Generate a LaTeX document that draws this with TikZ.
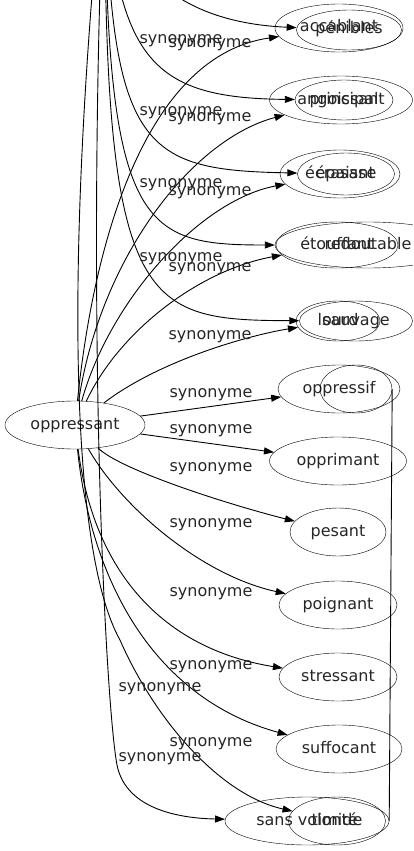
\documentclass[tikz,border=0pt]{standalone}
\usepackage{fontspec}
\setmainfont{DejaVu Sans}
\usetikzlibrary{shapes.geometric, arrows.meta}

\begin{document}
\begin{tikzpicture}[x=1pt, y=-1pt, font=\fontsize{16}{19}\selectfont,
    word/.style={draw, ellipse, inner sep=0pt, minimum height=48, text height=11.5pt, text depth=3.5pt, text=black!85},
    syn/.style={inner sep=0pt, text height=11.5pt, text depth=3.5pt, text=black!85},
    arc/.style={-{Triangle[length=10pt, width=7pt]}, line width=0.9pt}]
    \useasboundingbox (0,0) rectangle (413,851);
    \clip (0,0) rectangle (413,851);

    \node[word, minimum width=140] (opp) at (75,425) {oppressant};

    \node[word, minimum width=128] (acc) at (339,28) {accablant};
    \node[word, minimum width=105, minimum height=40] (pen) at (349,30) {pénibles};
    \node[word, minimum width=143] (ang) at (341,100) {angoissant};
    \node[word, minimum width=98, minimum height=40] (pri) at (344,100) {principal};
    \node[word, minimum width=120] (ecr) at (340,174) {écrasant};
    \node[word, minimum width=97, minimum height=42] (epa) at (346,174) {épaisse};
    \node[word, minimum width=122, minimum height=46] (eto) at (337,245) {étouffant};
    \node[word, minimum width=186, minimum height=46] (red) at (368,245) {redoutable};
    \node[word, minimum width=84, minimum height=40] (lou) at (338,321) {lourd};
    \node[word, minimum width=113, minimum height=40] (sau) at (356,321) {sauvage};
    \node[word, minimum width=122] (ops) at (339,389) {oppressif};
    \node[word, minimum width=72] (blank) at (356,389) {};
    \node[word, minimum width=137] (opm) at (338,461) {opprimant};
    \node[word, minimum width=96] (pes) at (338,532) {pesant};
    \node[word, minimum width=118] (poi) at (338,605) {poignant};
    \node[word, minimum width=118] (str) at (338,677) {stressant};
    \node[word, minimum width=126] (suf) at (339,749) {suffocant};
    \node[word, minimum width=164] (sv) at (307,821) {sans volonté};
    \node[word, minimum width=97] (tim) at (337,821) {timide};

    \coordinate (src) at (105,-150);

    \draw[arc] (opp) .. controls (95,230) and (150,55) .. (acc);
    \draw[arc] (opp) .. controls (100,260) and (190,140) .. (ang);
    \draw[arc] (opp) .. controls (110,300) and (200,200) .. (ecr);
    \draw[arc] (opp) .. controls (120,330) and (200,270) .. (eto);
    \draw[arc] (opp) .. controls (160,360) and (250,335) .. (lou);
    \draw[arc] (opp) -- (ops);
    \draw[arc] (opp) -- (opm);
    \draw[arc] (opp) .. controls (120,470) and (230,505) .. (pes);
    \draw[arc] (opp) .. controls (120,505) and (200,575) .. (poi);
    \draw[arc] (opp) .. controls (95,580) and (170,650) .. (str);
    \draw[arc] (opp) .. controls (92,590) and (160,700) .. (suf);

    \draw[arc] (src) .. controls (110,-40) and (170,22) .. (pen);
    \draw[arc] (src) .. controls (112,60) and (150,98) .. (pri);
    \draw[arc] (src) .. controls (108,150) and (140,170) .. (epa);
    \draw[arc] (src) .. controls (104,230) and (140,245) .. (red);
    \draw[arc] (src) .. controls (102,310) and (140,320) .. (sau);
    \draw[arc] (src) .. controls (85,300) and (105,700) .. (117,765) .. controls (125,805) and (170,818) .. (sv);
    \draw[arc] (src) .. controls (60,300) and (75,560) .. (120,640) .. controls (155,720) and (220,795) .. (tim);
    \draw[line width=0.9pt] (blank.east) -- (sv.east);

    \foreach \x/\y [count=\i] in {181/40, 210/44, 181/111, 210/117, 181/183, 210/191,
        181/257, 210/267, 210/335, 211/393, 211/429, 211/467, 211/523, 211/592,
        211/665, 211/742, 160/687, 160/757}
        \node[syn] (syn\i) at (\x,\y) {synonyme};
\end{tikzpicture}
\end{document}
